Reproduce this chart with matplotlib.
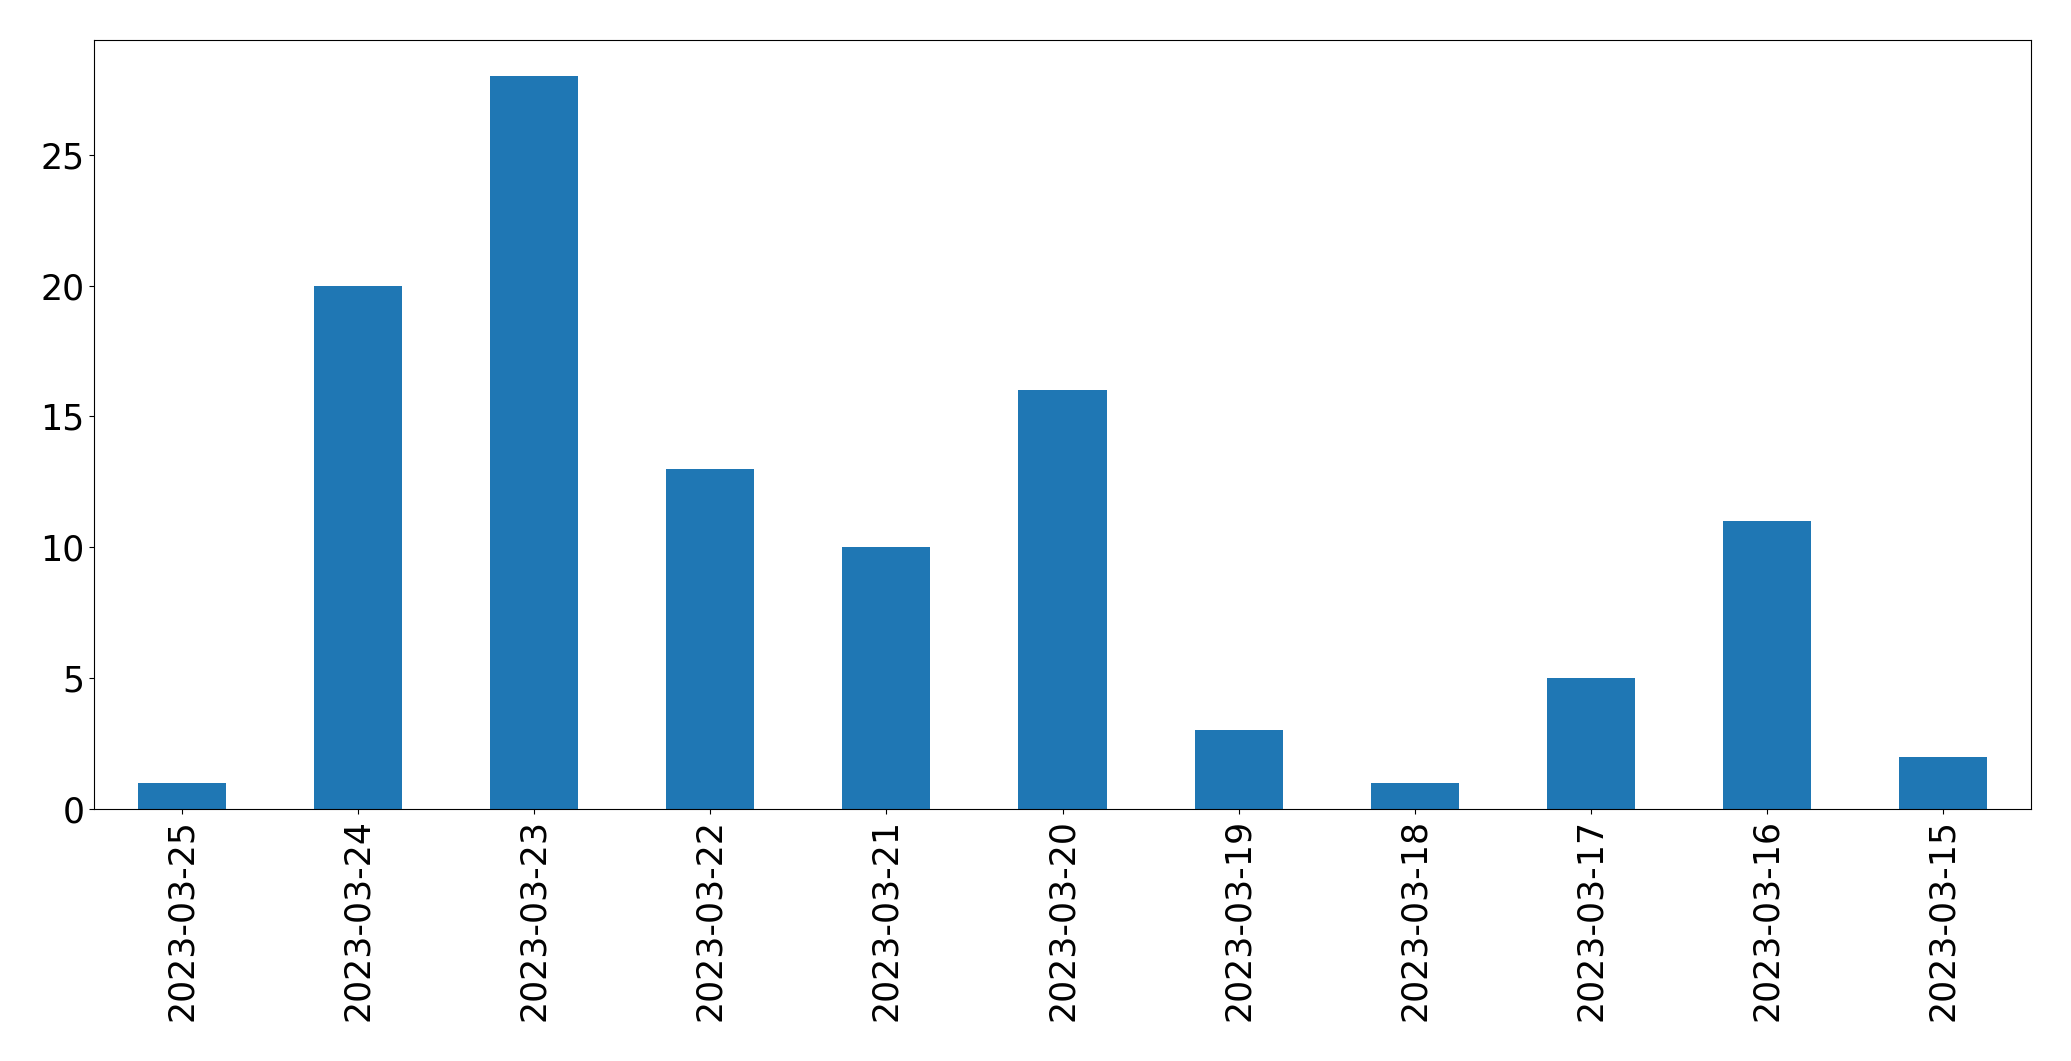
import matplotlib
matplotlib.use("Agg")
import matplotlib.pyplot as plt

dates = ["2023-03-25", "2023-03-24", "2023-03-23", "2023-03-22", "2023-03-21",
         "2023-03-20", "2023-03-19", "2023-03-18", "2023-03-17", "2023-03-16",
         "2023-03-15"]
counts = [1, 20, 28, 13, 10, 16, 3, 1, 5, 11, 2]

fig = plt.figure(figsize=(20.71, 10.61), dpi=100)
ax = fig.add_axes([94/2071, 1 - 809/1061, (2031 - 94)/2071, (809 - 39.5)/1061])
x = list(range(len(dates)))
ax.bar(x, counts, width=0.5, color="#1f77b4")
ax.set_xlim(-0.5, len(dates) - 0.5)
ax.set_ylim(0, max(counts) * 1.05)
ax.set_xticks(x)
ax.set_xticklabels(dates, rotation=90, fontsize=25)
ax.tick_params(axis="y", labelsize=25)
ax.set_yticks([0, 5, 10, 15, 20, 25])
fig.savefig("out.png", dpi=100)
